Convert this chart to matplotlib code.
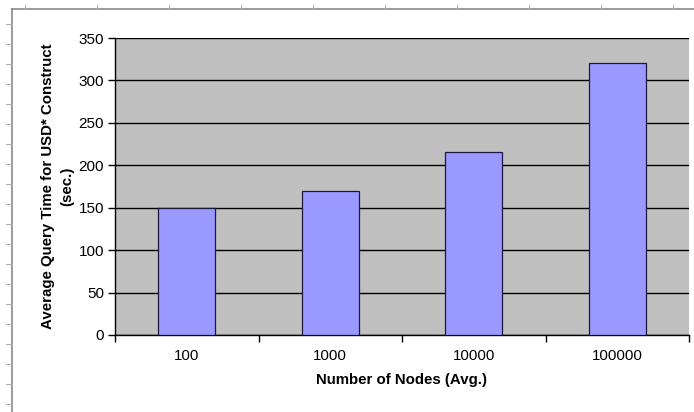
import matplotlib
matplotlib.use("Agg")
import matplotlib.pyplot as plt
from matplotlib.lines import Line2D
import numpy as np

plt.rcParams['font.family'] = ['Liberation Sans', 'DejaVu Sans']

categories = ["100", "1000", "10000", "100000"]
query_time = [150, 170, 216, 321]
y_ticks = [0, 50, 100, 150, 200, 250, 300, 350]

W, H = 694, 412
fig = plt.figure(figsize=(W / 100, H / 100), dpi=100)
fig.patch.set_facecolor("white")

# plot area in pixel coordinates
left, right, top, bottom = 115, 689, 38, 335
ax = fig.add_axes([left / W, (H - bottom) / H, (right - left) / W, (bottom - top) / H])
ax.set_facecolor("#C0C0C0")

x = np.arange(len(categories))
ax.set_axisbelow(True)
ax.yaxis.grid(True, color="black", linewidth=1.0)
ax.bar(x, query_time, width=0.4, color="#9999FF", edgecolor="#1a1a40", linewidth=0.9, zorder=3)

ax.set_xlim(-0.5, len(categories) - 0.5)
ax.set_ylim(0, 350)
ax.set_yticks(y_ticks)
ax.set_xticks(x)
ax.set_xticklabels(categories)
ax.set_xticks(np.arange(-0.5, len(categories)), minor=True)
ax.tick_params(axis="x", which="major", length=0, pad=10, labelsize=10.8)
ax.tick_params(axis="x", which="minor", length=5, direction="out", width=1)
ax.tick_params(axis="y", length=5, direction="out", width=1, pad=3, labelsize=11)

for s in ["top", "right"]:
    ax.spines[s].set_visible(False)
for s in ["left", "bottom"]:
    ax.spines[s].set_color("black")
    ax.spines[s].set_linewidth(1.0)

ax.set_xlabel("Number of Nodes (Avg.)", fontweight="bold", fontsize=10.8, labelpad=7)
ax.set_ylabel("Average Query Time for USD* Construct\n(sec.)", fontweight="bold",
              fontsize=10.8, labelpad=3, linespacing=1.45)

# sheet border with ruler marks
def px(xp, yp):
    return xp / W, 1 - yp / H

frame_color = "#8a8a8a"
fig.add_artist(Line2D([px(12, 9)[0], px(694, 9)[0]], [px(12, 9)[1]] * 2,
                      color=frame_color, linewidth=1.2, transform=fig.transFigure))
fig.add_artist(Line2D([px(12, 9)[0]] * 2, [px(12, 9)[1], px(12, 412)[1]],
                      color=frame_color, linewidth=1.2, transform=fig.transFigure))
for xp in range(25, 694, 72):
    fig.add_artist(Line2D([px(xp, 0)[0]] * 2, [px(xp, 5)[1], px(xp, 9)[1]],
                          color="#b0b0b0", linewidth=0.8, transform=fig.transFigure))
for yp in range(24, 412, 20):
    fig.add_artist(Line2D([px(6, 0)[0], px(12, 0)[0]], [px(0, yp)[1]] * 2,
                          color="#b0b0b0", linewidth=0.8, transform=fig.transFigure))

fig.savefig("out.png", dpi=100, facecolor="white")
